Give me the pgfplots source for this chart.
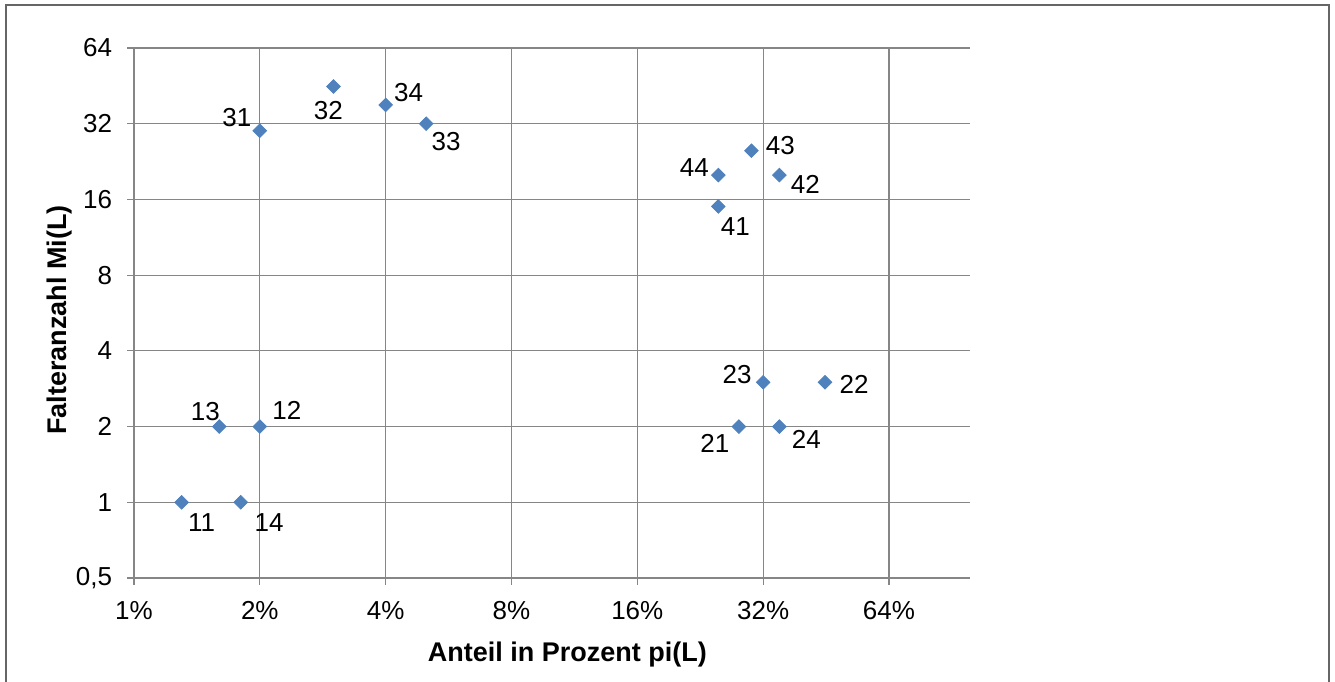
\documentclass[border=0pt]{standalone}
\usepackage{pgfplots}
\pgfplotsset{compat=1.18}
\usepackage{pgfplotstable}
\usepackage{fontspec}
\setmainfont{Liberation Sans}
\definecolor{exblue}{HTML}{4F81BD}
\definecolor{gridgray}{HTML}{868686}

\pgfplotstableread{
x    y   lab  dx     dy
1.30 1   11   10     -10
1.80 1   14   14.25  -10
1.60 2   13   -7     7.75
2.00 2   12   13.5   8
2.00 30  31   -11.5  6.5
3.00 45  32   -2.5   -12
4.00 38  34   11.5   6.25
5.00 32  33   10     -9
25   20  44   -12    4
30   25  43   14.5   2.5
35   20  42   13     -4.5
25   15  41   8.5    -10
32   3   23   -13    4
45   3   22   14.5   -1
28   2   21   -12    -8.5
35   2   24   13.5   -6.5
}\pts

\begin{document}
\begin{tikzpicture}
\useasboundingbox (0,0) rectangle (667.5pt,340.5pt);
\draw[line width=1pt, black!60] (3pt,-2pt) -- (3pt,338pt) -- (664.5pt,338pt) -- (664.5pt,-2pt);
\begin{axis}[
  at={(67pt,51.5pt)}, anchor=south west,
  scale only axis, width=418pt, height=265pt,
  xmode=log, ymode=log, log basis x=2, log basis y=2,
  xmin=1, xmax=100, ymin=0.5, ymax=64,
  xtick={1,2,4,8,16,32,64},
  xticklabels={1\%,2\%,4\%,8\%,16\%,32\%,64\%},
  ytick={0.5,1,2,4,8,16,32,64},
  yticklabels={{0,5},1,2,4,8,16,32,64},
  axis x line*=bottom, axis y line*=left,
  axis line style={gridgray, line width=0.6pt, -},
  grid=major, major grid style={gridgray, line width=0.6pt},
  tick align=outside, major tick length=3.5pt,
  tick style={gridgray, line width=0.6pt},
  every tick label/.append style={font=\fontsize{13}{15}\selectfont, text=black},
  xticklabel style={yshift=-4.5pt},
  yticklabel style={xshift=-4pt},
  xlabel={Anteil in Prozent pi(L)},
  ylabel={Falteranzahl Mi(L)},
  xlabel style={at={(axis description cs:0.5185,0)}, anchor=center, yshift=-38.25pt, font=\fontsize{13.5}{16}\selectfont\bfseries},
  ylabel style={at={(axis description cs:-0.089,0.487)}, anchor=center, font=\fontsize{13.5}{16}\selectfont\bfseries},
  clip=false,
]
\addplot[only marks, mark=square*, mark size=2.4pt,
  mark options={rotate=45, fill=exblue, draw=exblue},
  point meta=explicit symbolic,
  visualization depends on={\thisrow{dx}\as\dx},
  visualization depends on={\thisrow{dy}\as\dy},
  nodes near coords,
  nodes near coords style={anchor=center, xshift=\dx pt, yshift=\dy pt, font=\fontsize{13}{15}\selectfont, text=black},
] table[x=x, y=y, meta=lab] {\pts};
\end{axis}
\end{tikzpicture}
\end{document}
